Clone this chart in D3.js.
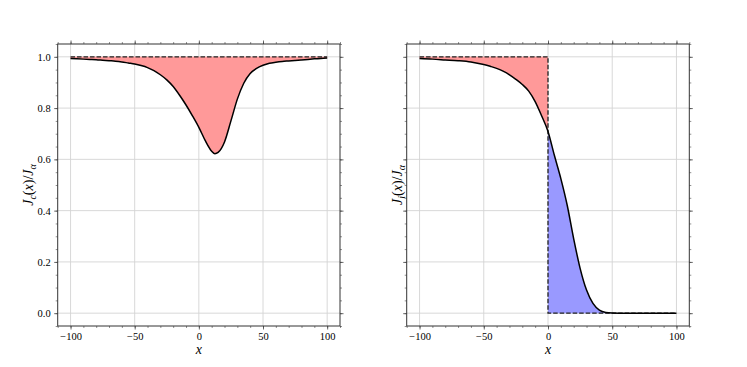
<!DOCTYPE html>
<html lang="en">
<head>
<meta charset="utf-8">
<title>Current profiles</title>
<script src="https://cdn.jsdelivr.net/npm/d3@7"></script>
<style>
  body { margin: 0; background: #fff; }
  svg text { font-family: "Liberation Serif", "DejaVu Serif", serif !important; fill: #000; }
</style>
</head>
<body>
<script>
var xsLeft = [-100, -95, -90, -85, -80, -75, -70, -65, -60, -55, -50, -45, -40, -35, -30, -25, -20, -15, -10, -5,
              0, 5, 10, 12.5, 15, 20, 25, 30, 35, 40, 45, 50, 55, 60, 65, 70, 75, 80, 85, 90, 95, 100];
// J_c(x)/J_a, left panel
var jcValues = [0.993, 0.992, 0.991, 0.990, 0.989, 0.987, 0.985, 0.983, 0.980, 0.976, 0.972, 0.966, 0.958, 0.946,
                0.930, 0.910, 0.884, 0.850, 0.812, 0.770, 0.725, 0.673, 0.632, 0.622, 0.627, 0.668, 0.750, 0.835,
                0.897, 0.935, 0.955, 0.967, 0.975, 0.979, 0.982, 0.984, 0.986, 0.988, 0.990, 0.992, 0.993, 0.995];

var xsRight = [-100, -90, -80, -70, -60, -50, -45, -40, -35, -30, -25, -20, -15, -10, -5,
               0, 5, 10, 15, 20, 25, 30, 35, 40, 45, 50, 60, 70, 80, 90, 100];
// J_i(x)/J_a, right panel
var jiValues = [0.993, 0.991, 0.988, 0.985, 0.980, 0.970, 0.963, 0.955, 0.944, 0.930, 0.912, 0.892, 0.866, 0.825, 0.770,
                0.709, 0.615, 0.525, 0.420, 0.290, 0.175, 0.090, 0.038, 0.012, 0.003, 0.001, 0, 0, 0, 0, 0];

var xTicks = [-100, -50, 0, 50, 100];
var yTicks = [0.0, 0.2, 0.4, 0.6, 0.8, 1.0];
var xMinor = d3.range(-110, 111, 10);
var yMinor = d3.range(-0.05, 1.051, 0.05);

var W = 747, H = 367;
var svg = d3.select("body").append("svg").attr("width", W).attr("height", H);

var fmtX = function(d) { return d < 0 ? "\u2212" + Math.abs(d) : String(d); };
var fmtY = d3.format(".1f");

function drawPanel(left, right, showYLabels, labelX, sub) {
    var top = 44, bottom = 326;
    var x = d3.scaleLinear().domain([-110, 110]).range([left, right]);
    var y = d3.scaleLinear().domain([-0.05, 1.05]).range([bottom, top]);
    var g = svg.append("g");

    // grid
    g.selectAll(".gx").data(xTicks).enter().append("line")
     .attr("x1", x).attr("x2", x).attr("y1", top).attr("y2", bottom)
     .attr("stroke", "#d4d4d4").attr("stroke-width", 0.9);
    g.selectAll(".gy").data(yTicks).enter().append("line")
     .attr("y1", y).attr("y2", y).attr("x1", left).attr("x2", right)
     .attr("stroke", "#d4d4d4").attr("stroke-width", 0.9);

    function addAxis(maker, scale, tr, major, minor, fmt) {
        var m = g.append("g").attr("transform", tr)
         .call(maker(scale).tickValues(minor).tickSize(2).tickFormat(""));
        m.select(".domain").remove();
        m.selectAll("line").attr("stroke", "#444").attr("stroke-width", 0.6);
        var ax = g.append("g").attr("transform", tr)
         .call(maker(scale).tickValues(major).tickSize(3.5).tickPadding(3.5)
               .tickFormat(fmt ? fmt : function() { return ""; }));
        ax.select(".domain").remove();
        ax.attr("font-family", null);
        ax.selectAll("line").attr("stroke", "#444").attr("stroke-width", 0.8);
        ax.selectAll("text").style("font-size", "10.5px").style("fill", "#000");
    }

    return {g: g, x: x, y: y,
            finish: function() {
                addAxis(d3.axisBottom, x, "translate(0," + bottom + ")", xTicks, xMinor, fmtX);
                addAxis(d3.axisTop, x, "translate(0," + top + ")", xTicks, xMinor, null);
                addAxis(d3.axisLeft, y, "translate(" + left + ",0)", yTicks, yMinor, showYLabels ? fmtY : null);
                addAxis(d3.axisRight, y, "translate(" + right + ",0)", yTicks, yMinor, null);
                g.append("rect").attr("x", left).attr("y", top).attr("width", right - left).attr("height", bottom - top)
                 .attr("fill", "none").attr("stroke", "#333").attr("stroke-width", 1);

                // x label
                g.append("text").attr("x", x(0)).attr("y", 354).attr("text-anchor", "middle")
                 .style("font-size", "14px").style("font-style", "italic").text("x");

                // y label
                var t = g.append("text").attr("transform", "translate(" + labelX + "," + ((top + bottom) / 2) + ") rotate(-90)")
                 .attr("text-anchor", "middle").style("font-size", "14px");
                t.append("tspan").style("font-style", "italic").text("J");
                t.append("tspan").style("font-style", "italic").style("font-size", "10px").attr("dy", 3).text(sub);
                t.append("tspan").attr("dy", -3).text("(");
                t.append("tspan").style("font-style", "italic").text("x");
                t.append("tspan").text(")/");
                t.append("tspan").style("font-style", "italic").text("J");
                t.append("tspan").style("font-style", "italic").style("font-size", "10px").attr("dy", 3).text("\u03b1");
            }};
}

// ---- left panel
var p1 = drawPanel(57.7, 340, true, 33, "c");
var leftData = xsLeft.map(function(d, i) { return [d, jcValues[i]]; });
p1.g.append("path").datum(leftData)
  .attr("d", d3.area().curve(d3.curveMonotoneX)
        .x(function(d) { return p1.x(d[0]); }).y0(p1.y(1)).y1(function(d) { return p1.y(d[1]); }))
  .attr("fill", "#ff9999");
p1.g.append("line").attr("x1", p1.x(-100)).attr("x2", p1.x(100)).attr("y1", p1.y(1)).attr("y2", p1.y(1))
  .attr("stroke", "#222").attr("stroke-width", 1.3).attr("stroke-dasharray", "4.5,2");
p1.g.append("path").datum(leftData)
  .attr("d", d3.line().curve(d3.curveMonotoneX).x(function(d) { return p1.x(d[0]); }).y(function(d) { return p1.y(d[1]); }))
  .attr("fill", "none").attr("stroke", "#000").attr("stroke-width", 1.5);
p1.finish();

// ---- right panel
var p2 = drawPanel(406.7, 689.3, false, 402, "i");
var rightData = xsRight.map(function(d, i) { return [d, jiValues[i]]; });
var negPart = rightData.filter(function(d) { return d[0] <= 0; });
var posPart = rightData.filter(function(d) { return d[0] >= 0; });
p2.g.append("path").datum(negPart)
  .attr("d", d3.area().curve(d3.curveMonotoneX)
        .x(function(d) { return p2.x(d[0]); }).y0(p2.y(1)).y1(function(d) { return p2.y(d[1]); }))
  .attr("fill", "#ff9999");
p2.g.append("path").datum(posPart)
  .attr("d", d3.area().curve(d3.curveMonotoneX)
        .x(function(d) { return p2.x(d[0]); }).y0(p2.y(0)).y1(function(d) { return p2.y(d[1]); }))
  .attr("fill", "#9999ff");
var step = [[-100, 1], [0, 1], [0, 0], [100, 0]];
p2.g.append("path").datum(step)
  .attr("d", d3.line().x(function(d) { return p2.x(d[0]); }).y(function(d) { return p2.y(d[1]); }))
  .attr("fill", "none").attr("stroke", "#222").attr("stroke-width", 1.3).attr("stroke-dasharray", "4.5,2");
p2.g.append("path").datum(rightData)
  .attr("d", d3.line().curve(d3.curveMonotoneX).x(function(d) { return p2.x(d[0]); }).y(function(d) { return p2.y(d[1]); }))
  .attr("fill", "none").attr("stroke", "#000").attr("stroke-width", 1.5);
p2.finish();
</script>
</body>
</html>
